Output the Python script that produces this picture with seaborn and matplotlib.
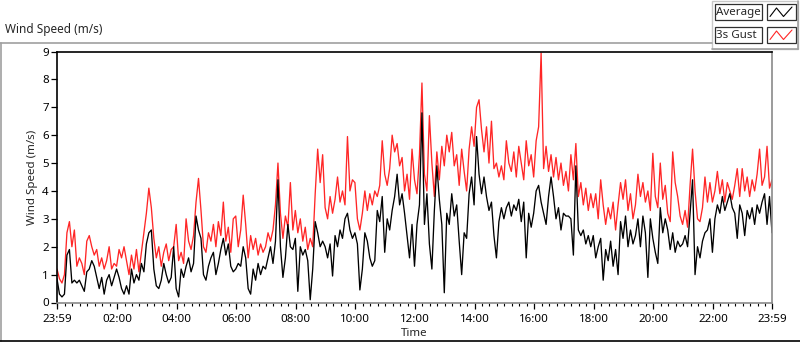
import numpy as np
import pandas as pd
import matplotlib
matplotlib.use("Agg")
import matplotlib.pyplot as plt
from matplotlib.patches import Rectangle
from matplotlib.lines import Line2D
import seaborn as sns

# ---------------- data (5-minute steps) ----------------
gust = [
    1.2, 0.85, 0.7, 1.0, 2.5, 2.9, 2.0, 2.6, 1.3, 1.6, 1.4, 1.0,     # 00h
    2.2, 2.4, 2.0, 1.7, 1.9, 1.3, 1.6, 1.2, 1.5, 2.0, 1.2, 1.4,      # 01h
    1.3, 1.9, 1.6, 2.0, 1.5, 1.0, 1.7, 1.2, 1.9, 1.1, 1.8, 2.5,      # 02h
    3.2, 4.1, 3.4, 2.3, 1.6, 2.0, 1.3, 1.8, 2.1, 1.5, 1.9, 2.0,      # 03h
    2.8, 1.5, 1.8, 1.4, 3.0, 2.2, 1.9, 2.4, 3.6, 4.45, 3.3, 2.0,     # 04h
    1.8, 2.5, 2.2, 2.8, 2.0, 2.9, 2.4, 3.6, 2.2, 2.7, 1.8, 3.0,      # 05h
    3.1, 2.0, 2.6, 3.85, 2.8, 1.6, 2.4, 1.9, 2.3, 1.7, 2.1, 1.8,     # 06h
    2.0, 2.5, 2.2, 2.6, 3.5, 5.0, 3.2, 2.3, 3.1, 2.7, 4.3, 2.6,      # 07h
    3.3, 2.5, 3.0, 2.2, 2.7, 1.9, 2.3, 2.0, 3.9, 5.5, 4.3, 5.3,      # 08h
    3.4, 3.0, 3.8, 3.2, 3.7, 4.5, 3.6, 4.0, 3.5, 5.95, 4.0, 4.4,     # 09h
    4.3, 3.0, 2.6, 3.2, 4.0, 3.3, 3.9, 3.5, 4.0, 3.8, 4.2, 5.8,      # 10h
    4.6, 4.2, 4.8, 6.0, 5.4, 5.7, 4.9, 5.2, 4.0, 4.6, 3.7, 5.5,      # 11h
    4.4, 3.9, 5.3, 7.87, 4.6, 4.0, 6.7, 5.0, 3.8, 5.4, 4.4, 5.6,     # 12h
    4.9, 6.0, 5.4, 6.1, 4.9, 5.3, 4.2, 5.5, 4.7, 4.0, 5.5, 6.3,      # 13h
    5.6, 7.0, 7.27, 6.2, 5.4, 6.3, 5.0, 6.5, 4.8, 5.0, 4.5, 4.9,     # 14h
    4.4, 5.8, 5.0, 4.7, 5.4, 4.5, 5.6, 5.0, 4.4, 5.8, 4.9, 5.3,      # 15h
    4.5, 5.8, 6.3, 8.95, 4.8, 5.6, 4.7, 5.3, 4.5, 5.2, 4.4, 5.0,     # 16h
    4.2, 4.7, 4.0, 5.3, 4.4, 5.7, 3.8, 4.3, 3.5, 4.1, 3.3, 3.9,      # 17h
    3.4, 3.9, 3.0, 4.4, 3.5, 2.8, 3.4, 3.0, 3.6, 2.6, 3.5, 4.3,      # 18h
    3.7, 4.4, 3.3, 3.9, 3.0, 3.5, 4.6, 3.8, 4.3, 3.6, 4.0, 3.3,      # 19h
    5.35, 3.8, 3.4, 5.0, 3.7, 4.2, 3.2, 2.9, 5.4, 4.3, 3.8, 3.1,     # 20h
    2.8, 3.3, 2.7, 4.2, 5.5, 4.0, 3.0, 2.9, 3.4, 4.5, 3.6, 4.3,      # 21h
    3.6, 4.0, 4.7, 3.9, 4.4, 3.6, 4.3, 4.0, 3.7, 4.2, 4.8, 3.8,      # 22h
    4.8, 4.0, 4.5, 3.8, 4.4, 4.0, 4.6, 5.5, 4.2, 4.5, 5.6, 4.1,      # 23h
    4.4,
]
average = [
    0.85, 0.3, 0.2, 0.3, 1.7, 1.9, 0.7, 0.8, 0.7, 0.8, 0.6, 0.4,     # 00h
    1.1, 1.2, 1.5, 1.3, 0.9, 0.5, 0.9, 0.3, 0.8, 1.0, 0.6, 0.9,      # 01h
    1.2, 0.9, 0.5, 0.3, 0.6, 0.3, 1.2, 0.7, 1.0, 0.8, 1.4, 1.1,      # 02h
    2.1, 2.5, 2.6, 1.2, 0.6, 0.5, 0.8, 1.4, 1.0, 0.7, 0.9, 2.0,      # 03h
    0.5, 0.2, 1.2, 0.9, 1.3, 1.6, 1.1, 1.4, 3.1, 2.6, 2.3, 1.0,      # 04h
    0.8, 1.3, 1.6, 1.8, 1.0, 1.4, 1.9, 2.3, 1.7, 2.1, 1.3, 1.1,      # 05h
    1.2, 1.4, 1.3, 2.0, 1.6, 0.5, 0.3, 1.2, 0.8, 1.4, 1.0, 1.3,      # 06h
    1.2, 1.6, 2.0, 1.4, 2.2, 4.4, 2.0, 0.9, 1.6, 2.8, 2.0, 1.9,      # 07h
    2.3, 0.4, 2.0, 1.7, 1.9, 1.5, 0.1, 1.2, 2.9, 2.5, 2.0, 2.2,      # 08h
    2.0, 1.6, 2.1, 0.95, 2.4, 2.0, 2.6, 2.3, 3.0, 3.2, 2.6, 2.3,     # 09h
    2.5, 2.1, 0.45, 1.2, 2.5, 2.2, 1.6, 1.3, 1.5, 3.3, 2.9, 3.8,     # 10h
    1.8, 3.0, 2.6, 3.3, 3.8, 4.6, 3.5, 3.9, 3.2, 2.4, 1.6, 2.8,      # 11h
    1.3, 2.8, 3.5, 6.8, 2.8, 3.9, 2.1, 1.2, 3.3, 4.9, 3.7, 2.8,      # 12h
    0.35, 3.2, 2.8, 3.9, 3.1, 3.5, 2.2, 1.0, 2.5, 2.3, 3.9, 4.5,     # 13h
    3.5, 5.95, 4.6, 3.9, 4.5, 3.8, 3.3, 3.6, 2.4, 1.6, 2.9, 3.4,     # 14h
    3.0, 3.4, 3.6, 3.1, 3.5, 3.3, 3.7, 2.9, 3.6, 1.6, 3.2, 2.7,      # 15h
    3.2, 4.0, 4.2, 3.6, 3.2, 2.8, 3.8, 4.5, 3.8, 3.0, 3.4, 2.6,      # 16h
    3.2, 3.1, 3.1, 3.0, 1.7, 4.9, 2.6, 2.4, 2.6, 2.1, 2.4, 2.0,      # 17h
    2.4, 1.6, 2.0, 2.3, 0.8, 1.9, 1.5, 2.2, 1.3, 1.9, 1.0, 2.9,      # 18h
    2.3, 3.1, 2.0, 2.6, 2.1, 2.4, 3.0, 2.0, 3.1, 2.5, 0.9, 3.0,      # 19h
    2.3, 1.8, 1.4, 3.4, 2.5, 3.0, 2.6, 1.9, 2.5, 1.8, 2.2, 2.0,      # 20h
    2.1, 2.4, 2.0, 3.2, 4.4, 1.0, 2.0, 1.6, 2.2, 2.5, 2.6, 3.0,      # 21h
    1.8, 3.0, 3.5, 3.2, 3.8, 3.3, 3.6, 3.9, 3.4, 3.2, 2.3, 3.5,      # 22h
    3.2, 2.4, 3.3, 3.0, 3.4, 2.8, 3.5, 3.2, 3.6, 3.9, 2.8, 3.8,      # 23h
    2.5,
]
step_minutes = 5
tick_labels = ["23:59", "02:00", "04:00", "06:00", "08:00", "10:00", "12:00",
               "14:00", "16:00", "18:00", "20:00", "22:00", "23:59"]
y_ticks = [0, 1, 2, 3, 4, 5, 6, 7, 8, 9]
series_names = ["Average", "3s Gust"]

# ---------------- figure ----------------
W, H = 800, 342
sns.set_style("white")
plt.rcParams["font.family"] = ["Noto Sans", "DejaVu Sans"]

fig = plt.figure(figsize=(W / 100, H / 100), dpi=100)
fig.patch.set_facecolor("white")


def fx(px):
    return px / W


def fy(py):
    return 1 - py / H


ax = fig.add_axes([fx(57), fy(302.5), fx(772) - fx(57), fy(51.5) - fy(302.5)])

minutes = np.arange(len(average)) * step_minutes
df = pd.DataFrame({
    "minute": np.concatenate([minutes, minutes]),
    "speed": np.concatenate([average, gust]),
    "series": [series_names[0]] * len(average) + [series_names[1]] * len(gust),
})
palette = {"Average": "#000000", "3s Gust": "#ff2626"}
sns.lineplot(data=df[df.series == "3s Gust"], x="minute", y="speed", color=palette["3s Gust"],
             linewidth=0.95, ax=ax, legend=False)
sns.lineplot(data=df[df.series == "Average"], x="minute", y="speed", color=palette["Average"],
             linewidth=0.95, ax=ax, legend=False)

ax.set_xlim(0, 1440)
ax.set_ylim(0, 9)
major = [0] + [1 + 120 * k for k in range(1, 12)] + [1440]
ax.set_xticks(major)
ax.set_xticklabels(tick_labels)
ax.set_xticks([1 + 15 * k for k in range(96)], minor=True)
ax.set_yticks(y_ticks)
ax.set_yticklabels([str(v) for v in y_ticks])
ax.tick_params(axis="both", which="major", direction="out", length=4, width=0.9,
               color="#000000", labelsize=8.3, labelcolor="#000000")
ax.tick_params(axis="x", which="major", pad=4)
ax.tick_params(axis="y", which="major", pad=2)
ax.tick_params(axis="x", which="minor", direction="out", length=2.2, width=0.8, color="#000000")
ax.tick_params(axis="x", which="both", bottom=True)
ax.tick_params(axis="y", which="both", left=True)
ax.set_xlabel("Time", fontsize=8.3, labelpad=2.5)
ax.set_ylabel("Wind Speed (m/s)", fontsize=8.3, labelpad=3)
for side in ["top", "left"]:
    ax.spines[side].set_color("#000000")
    ax.spines[side].set_linewidth(1.2)
for side in ["bottom", "right"]:
    ax.spines[side].set_color("#8a8a8a")
    ax.spines[side].set_linewidth(1.2)
ax.set_facecolor("white")

# ---------------- outer frame & title ----------------
fig.add_artist(Line2D([fx(0), fx(712)], [fy(43), fy(43)], color="#a0a0a0", lw=1.2))
fig.add_artist(Line2D([fx(1), fx(1)], [fy(43), fy(340.5)], color="#a0a0a0", lw=1.2))
fig.add_artist(Line2D([fx(0), fx(800)], [fy(340.5), fy(340.5)], color="#000000", lw=1.2))
fig.text(fx(5), fy(30), "Wind Speed (m/s)", fontsize=8.5, ha="left", va="center")

# ---------------- legend panel ----------------
fig.add_artist(Rectangle((fx(712), fy(49)), fx(798) - fx(712), fy(1) - fy(49),
                         facecolor="white", edgecolor="#c8c8c8", lw=1.0))
fig.add_artist(Line2D([fx(712), fx(798)], [fy(49), fy(49)], color="#a0a0a0", lw=1.2))
fig.add_artist(Line2D([fx(798), fx(798)], [fy(1), fy(49)], color="#a0a0a0", lw=1.2))
rows = [(series_names[0], palette["Average"], 4, 20), (series_names[1], palette["3s Gust"], 27, 43)]
for name, col, y0, y1 in rows:
    fig.add_artist(Rectangle((fx(715), fy(y1)), fx(762) - fx(715), fy(y0) - fy(y1),
                             facecolor="white", edgecolor="#303030", lw=0.9))
    fig.text(fx(716.5), fy((y0 + y1) / 2 + 0.5), name, fontsize=8.3, ha="left", va="center")
    fig.add_artist(Rectangle((fx(767), fy(y1)), fx(796) - fx(767), fy(y0) - fy(y1),
                             facecolor="white", edgecolor="#303030", lw=0.9))
    zx = [770, 776.5, 783.5, 792]
    zy = [y1 - 3.5, y0 + 4, y1 - 3.5, y0 + 3]
    fig.add_artist(Line2D([fx(v) for v in zx], [fy(v) for v in zy], color=col, lw=0.8))

fig.savefig("out.png", dpi=100, facecolor="white")
